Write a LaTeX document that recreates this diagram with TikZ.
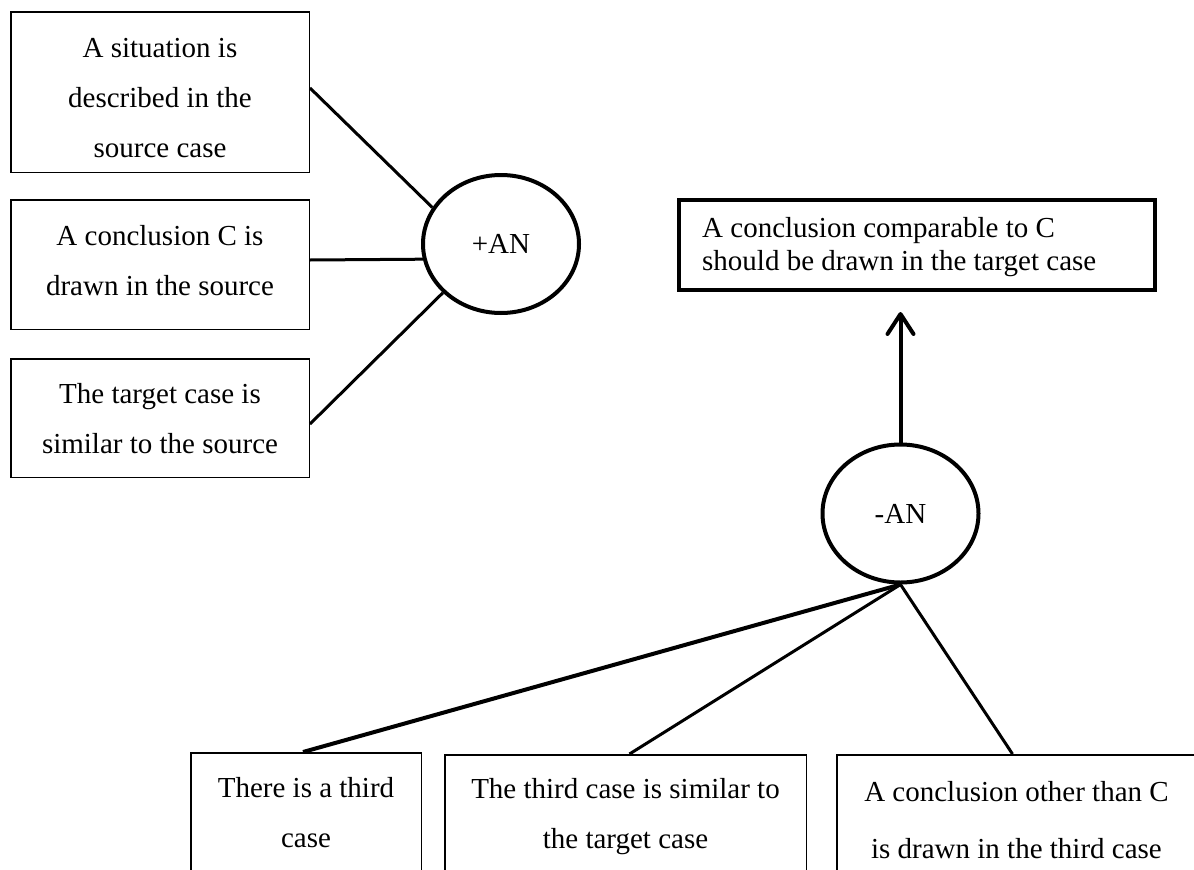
\documentclass[tikz,border=0pt]{standalone}
\usepackage{fontspec}
\setmainfont{Liberation Serif}
\usetikzlibrary{arrows.meta,calc,shapes.geometric}
\tikzset{
  box/.style={draw, rectangle, line width=1.5pt, inner sep=0pt, anchor=north west},
  thickbox/.style={draw, rectangle, line width=4pt, inner sep=0pt, anchor=north west},
  txt/.style={font=\fontsize{29}{50}\selectfont, align=center, inner sep=0pt, anchor=base},
  oval/.style={draw, ellipse, line width=4pt, minimum width=156pt, minimum height=138pt,
               inner sep=0pt, font=\fontsize{29}{35}\selectfont},
  conn/.style={line width=3pt},
  thickconn/.style={line width=4pt},
  arr/.style={line width=4pt, -{Straight Barb[length=20pt,width=26pt,line cap=round,line join=round]}},
}
\begin{document}
\begin{tikzpicture}[x=1pt,y=-1pt]
\useasboundingbox (0,0) rectangle (1194,870);
\clip (0,0) rectangle (1194,870);

% left premises
\node[box, minimum width=298.5pt, minimum height=160.5pt] (s1) at (10,11) {};
\node[txt] (s1t) at ($(s1.north)+(0,146)$) {A situation is\\described in the\\source case};
\node[box, minimum width=298.5pt, minimum height=129.5pt] (s2) at (10,199) {};
\node[txt] (s2t) at ($(s2.north)+(0,96)$) {A conclusion C is\\drawn in the source};
\node[box, minimum width=298.5pt, minimum height=118.5pt] (s3) at (10,358) {};
\node[txt] (s3t) at ($(s3.north)+(0,95)$) {The target case is\\similar to the source};

% +AN
\node[oval] (pa) at (501,244) {+AN};
\draw[conn] ([yshift=4pt]s1.east) -- (pa.152);
\draw[conn] ([yshift=4.5pt]s2.east) -- (pa.191.7);
\draw[conn] ([yshift=-6pt]s3.east) -- (pa.220);

% conclusion
\node[thickbox, minimum width=476pt, minimum height=90pt] (cc) at (677,198) {};
\node[font=\fontsize{29}{33}\selectfont, align=left, inner sep=0pt, anchor=base west] (cct)
  at ($(cc.north west)+(25,72)$) {A conclusion comparable to C\\should be drawn in the target case};

% -AN
\node[oval] (na) at (900.5,513.5) {-AN};
\draw[arr, shorten >=20pt] (na.north) -- (na.north |- cc.south);

% bottom premises
\node[box, minimum width=230.5pt, minimum height=200pt] (ba) at (190,752) {};
\node[txt] (bat) at ($(ba.north)+(0,95)$) {There is a third\\case};
\node[box, minimum width=361.5pt, minimum height=200pt] (bb) at (444,754) {};
\node[txt] (bbt) at ($(bb.north)+(0,94)$) {The third case is similar to\\the target case};
\node[box, minimum width=359.5pt, minimum height=200pt] (bc) at (836,754) {};
\node[txt, font=\fontsize{29}{57}\selectfont] (bct) at ($(bc.north)+(0,104)$) {A conclusion other than C\\is drawn in the third case};

\draw[thickconn] (na.south) -- ([xshift=-3pt]ba.north);
\draw[conn] (na.south) -- ([xshift=4pt]bb.north);
\draw[conn] (na.south) -- ([xshift=-4pt]bc.north);
\end{tikzpicture}
\end{document}
